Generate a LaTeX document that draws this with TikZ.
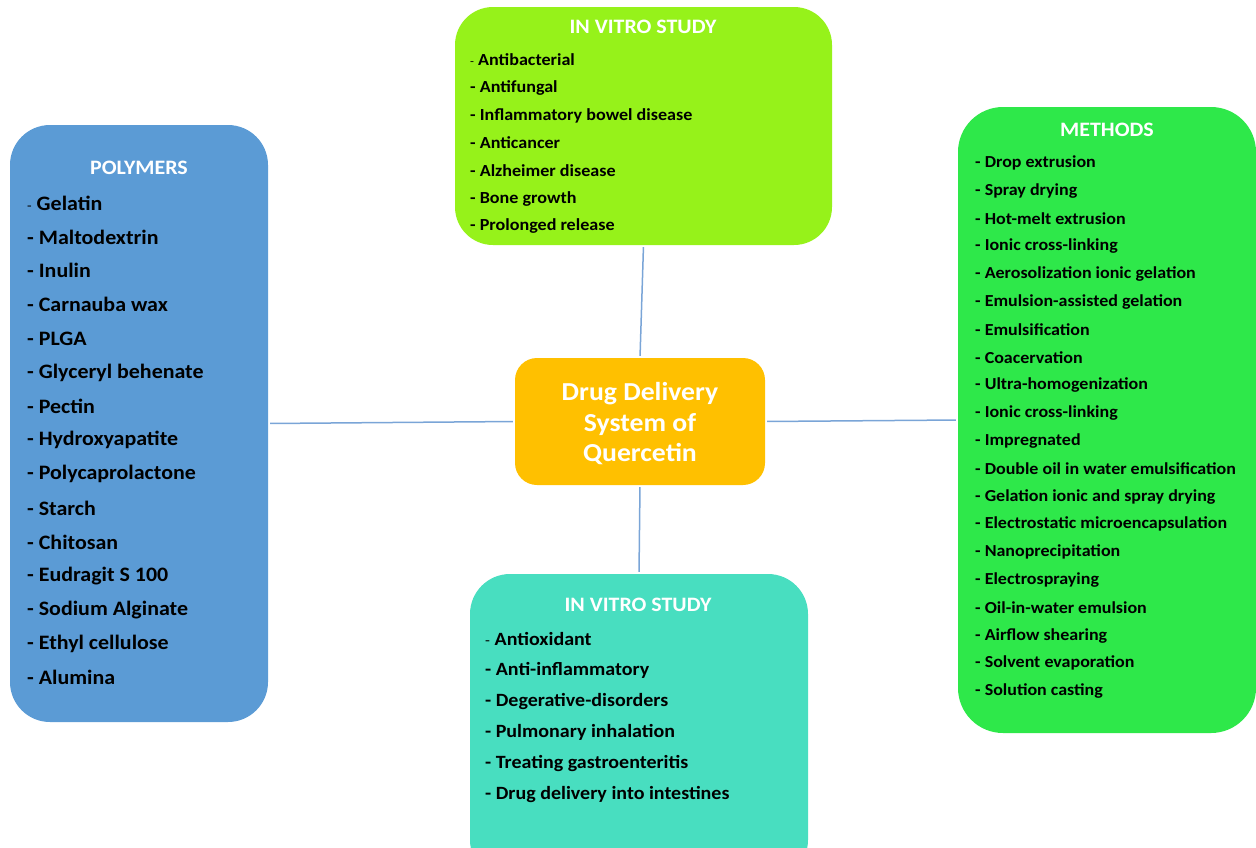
\documentclass[tikz,border=0pt]{standalone}
\usepackage{fontspec}
\setmainfont{Carlito}
\definecolor{cTop}{RGB}{150,242,26}
\definecolor{cPoly}{RGB}{91,155,213}
\definecolor{cCenter}{RGB}{255,192,0}
\definecolor{cMeth}{RGB}{46,232,74}
\definecolor{cBot}{RGB}{72,222,192}
\definecolor{cLine}{RGB}{122,165,215}
\newcommand\thindash[1]{{\mdseries\fontsize{#1}{#1}\selectfont-}}
\newcommand\sx[1]{\scalebox{1.07}[1]{#1}}
\begin{document}
\begin{tikzpicture}[x=1pt,y=-1pt,
  panel/.style={rectangle, inner sep=0pt, draw=none},
  ttl/.style={text=white, font=\bfseries\fontsize{20.5}{22}\selectfont, inner sep=0pt},
  itemA/.style={anchor=west, inner sep=0pt, font=\bfseries\fontsize{16.9}{18}\selectfont},
  itemP/.style={anchor=west, inner sep=0pt, font=\bfseries\fontsize{20.5}{22}\selectfont},
  itemM/.style={anchor=west, inner sep=0pt, font=\bfseries\fontsize{16.8}{18}\selectfont},
  itemB/.style={anchor=west, inner sep=0pt, font=\bfseries\fontsize{18.7}{20}\selectfont},
  conn/.style={draw=cLine, line width=1.5pt, shorten <=2pt, shorten >=2pt}]
\useasboundingbox (0,0) rectangle (1256,847);
\clip (0,0) rectangle (1256,847);

% panels
\node[panel, fill=cTop, minimum width=377pt, minimum height=238pt, rounded corners=38pt] (top) at (643.5,126) {};
\node[panel, fill=cPoly, minimum width=258pt, minimum height=597pt, rounded corners=40pt] (poly) at (139,423.5) {};
\node[panel, fill=cCenter, minimum width=250pt, minimum height=127pt, rounded corners=22pt] (center) at (640,421.5) {};
\node[panel, fill=cMeth, minimum width=298pt, minimum height=626pt, rounded corners=45pt] (meth) at (1107,420) {};
\node[panel, fill=cBot, minimum width=338pt, minimum height=306pt, rounded corners=40pt] (bot) at (639,727) {};

% connectors
\draw[conn] (top.south) -- (center.north);
\draw[conn] (poly.east) -- (center.west);
\draw[conn] (center.east) -- (meth.west);
\draw[conn] (center.south) -- (bot.north);

% center text
\node[text=white, font=\bfseries\fontsize{25.9}{30.5}\selectfont, align=center, inner sep=0pt] (ctext) at (640,424) {\sx{Drug Delivery}\\\sx{System of}\\\sx{Quercetin}};

% titles
\node[ttl] (topT) at (643,27) {\sx{IN VITRO STUDY}};
\node[ttl] (polyT) at (139,168) {\sx{POLYMERS}};
\node[ttl] (methT) at (1107,130) {\sx{METHODS}};
\node[ttl] (botT) at (638,605) {\sx{IN VITRO STUDY}};

% top list
\foreach \t [count=\i from 0] in {{\thindash{12} Antibacterial}, - Antifungal, - Inflammatory bowel disease, - Anticancer, - Alzheimer disease, - Bone growth, - Prolonged release}
  \node[itemA] (a\i) at (470,60+27.7*\i) {\sx{\t}};

% polymers list
\foreach \t [count=\i from 0] in {{\thindash{14} Gelatin}, - Maltodextrin, - Inulin, - Carnauba wax, - PLGA, - Glyceryl behenate, - Pectin, - Hydroxyapatite, - Polycaprolactone, - Starch, - Chitosan, - Eudragit S 100, - Sodium Alginate, - Ethyl cellulose, - Alumina}
  \node[itemP] (p\i) at (27,203+33.9*\i) {\sx{\t}};

% methods list
\foreach \t [count=\i from 0] in {- Drop extrusion, - Spray drying, - Hot-melt extrusion, - Ionic cross-linking, - Aerosolization ionic gelation, - Emulsion-assisted gelation, - Emulsification, - Coacervation, - Ultra-homogenization, - Ionic cross-linking, - Impregnated, - Double oil in water emulsification, - Gelation ionic and spray drying, - Electrostatic microencapsulation, - Nanoprecipitation, - Electrospraying, - Oil-in-water emulsion, - Airflow shearing, - Solvent evaporation, - Solution casting}
  \node[itemM] (m\i) at (975,163+27.8*\i) {\sx{\t}};

% bottom list
\foreach \t [count=\i from 0] in {{\thindash{15} Antioxidant}, - Anti-inflammatory, - Degerative-disorders, - Pulmonary inhalation, - Treating gastroenteritis, - Drug delivery into intestines}
  \node[itemB] (b\i) at (485,639+31*\i) {\sx{\t}};
\end{tikzpicture}
\end{document}
